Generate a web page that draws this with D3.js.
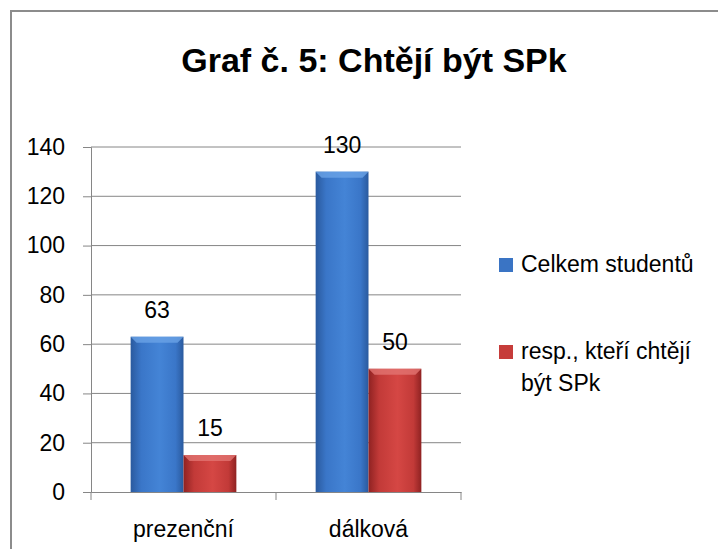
<!DOCTYPE html>
<html>
<head>
<meta charset="utf-8">
<script src="https://d3js.org/d3.v7.min.js"></script>
<style>
  body { margin: 0; background: #fff; }
  text { font-family: "Liberation Sans", Arial, sans-serif; fill: #000; }
</style>
</head>
<body>
<div id="chart"></div>
<script>
// data
var categories = ["prezenční", "dálková"];
var seriesNames = ["Celkem studentů", "resp., kteří chtějí být SPk"];
var celkem = [63, 130];
var chteji = [15, 50];
var yTicks = [0, 20, 40, 60, 80, 100, 120, 140];

var W = 718, H = 549;
var margin = {top: 147, right: 257, bottom: 57, left: 91},
    width = W - margin.left - margin.right,
    height = H - margin.top - margin.bottom;

var svg = d3.select("#chart")
  .append("svg")
    .attr("width", W)
    .attr("height", H);

// outer border of the chart area
svg.append("rect")
  .attr("x", 11).attr("y", 11)
  .attr("width", W).attr("height", H)
  .style("fill", "none")
  .style("stroke", "#8c8c8c")
  .style("stroke-width", 2);

// title
svg.append("text")
  .attr("x", 374).attr("y", 72)
  .attr("text-anchor", "middle")
  .style("font-weight", "bold")
  .style("font-size", "34px")
  .text("Graf č. 5: Chtějí být SPk");

// gradients
var defs = svg.append("defs");
function grad(id, dark, mid, light) {
  var g = defs.append("linearGradient").attr("id", id)
    .attr("x1", "0%").attr("x2", "100%").attr("y1", "0%").attr("y2", "0%");
  g.append("stop").attr("offset", "0%").attr("stop-color", dark);
  g.append("stop").attr("offset", "20%").attr("stop-color", mid);
  g.append("stop").attr("offset", "55%").attr("stop-color", light);
  g.append("stop").attr("offset", "85%").attr("stop-color", mid);
  g.append("stop").attr("offset", "100%").attr("stop-color", dark);
}
grad("gBlue", "#2a5a9e", "#3a76c8", "#4484d6");
grad("gRed", "#8f2222", "#c23a38", "#d54744");
var colors = ["url(#gBlue)", "url(#gRed)"];
var topColors = ["#6aa2e6", "#e27472"];
var legendColors = ["#3a74c4", "#c63c3a"];

var g = svg.append("g")
  .attr("transform", "translate(" + margin.left + "," + margin.top + ")");

var x0 = d3.scaleBand()
  .domain(categories)
  .range([0, width])
  .paddingInner(0)
  .paddingOuter(0);

var x1 = d3.scaleBand()
  .domain([0, 1])
  .range([0, x0.bandwidth()])
  .paddingOuter(0.75)
  .paddingInner(0);

var y = d3.scaleLinear()
  .domain([0, 140])
  .range([height, 0]);

// gridlines
g.append("g")
  .selectAll("line")
  .data(yTicks.filter(function(d){ return d > 0; }))
  .enter()
  .append("line")
    .attr("x1", 0).attr("x2", width)
    .attr("y1", function(d){ return y(d); })
    .attr("y2", function(d){ return y(d); })
    .style("stroke", "#868686")
    .style("stroke-width", 1);

// Y axis
var yAxis = g.append("g")
  .call(d3.axisLeft(y).tickValues(yTicks).tickSize(8).tickPadding(18));
yAxis.select(".domain").style("stroke", "#868686");
yAxis.selectAll(".tick line").style("stroke", "#868686");
yAxis.selectAll("text").style("font-size", "23px").style("font-family", "'Liberation Sans', Arial, sans-serif");

// X axis
var xAxis = g.append("g")
  .attr("transform", "translate(0," + height + ")")
  .call(d3.axisBottom(x0).tickSize(0).tickPadding(29));
xAxis.select(".domain").style("stroke", "#868686");
xAxis.selectAll("text").style("font-size", "23px").style("font-family", "'Liberation Sans', Arial, sans-serif");
// category boundary ticks
g.append("g")
  .selectAll("line")
  .data([0, 1, 2])
  .enter()
  .append("line")
    .attr("x1", function(d){ return d * x0.bandwidth(); })
    .attr("x2", function(d){ return d * x0.bandwidth(); })
    .attr("y1", height).attr("y2", height + 8)
    .style("stroke", "#868686");

// bars
var rows = categories.map(function(c, i){ return {cat: c, vals: [celkem[i], chteji[i]]}; });
var groups = g.selectAll(".grp")
  .data(rows)
  .enter()
  .append("g")
    .attr("class", "grp")
    .attr("transform", function(d){ return "translate(" + x0(d.cat) + ",0)"; });

var bars = groups.selectAll(".bar")
  .data(function(d){ return d.vals.map(function(v, s){ return {s: s, v: v}; }); })
  .enter()
  .append("g").attr("class", "bar");

bars.append("rect")
  .attr("x", function(d){ return x1(d.s); })
  .attr("y", function(d){ return y(d.v); })
  .attr("width", x1.bandwidth())
  .attr("height", function(d){ return height - y(d.v); })
  .style("fill", function(d){ return colors[d.s]; });

// top bevel
bars.append("path")
  .attr("d", function(d){
    var xa = x1(d.s), xb = xa + x1.bandwidth(), yt = y(d.v), b = 6;
    return "M" + xa + "," + yt + "L" + xb + "," + yt + "L" + (xb - b) + "," + (yt + b) + "L" + (xa + b) + "," + (yt + b) + "Z";
  })
  .style("fill", function(d){ return topColors[d.s]; })
  .style("opacity", 0.8);

// value labels
bars.append("text")
  .attr("x", function(d){ return x1(d.s) + x1.bandwidth() / 2; })
  .attr("y", function(d){ return y(d.v) - 19; })
  .attr("text-anchor", "middle")
  .style("font-size", "23px")
  .text(function(d){ return d.v; });

// legend
var legend = svg.append("g").attr("transform", "translate(499,258)");
var legLines = [["Celkem studentů"], ["resp., kteří chtějí", "být SPk"]];
var legY = [0, 87];
seriesNames.forEach(function(name, i){
  var lg = legend.append("g").attr("transform", "translate(0," + legY[i] + ")");
  lg.append("rect")
    .attr("width", 14).attr("height", 14)
    .style("fill", legendColors[i]);
  lg.append("text")
    .attr("x", 22).attr("y", 14)
    .style("font-size", "23px")
    .selectAll("tspan")
    .data(legLines[i])
    .enter()
    .append("tspan")
      .attr("x", 22)
      .attr("dy", function(d, j){ return j === 0 ? 0 : 32; })
      .text(function(d){ return d; });
});
</script>
</body>
</html>
